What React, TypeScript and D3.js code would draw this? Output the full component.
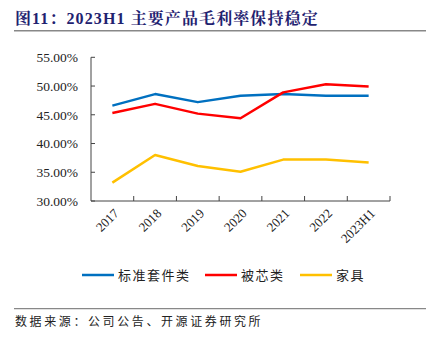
import React from "react";
import * as d3 from "d3";

const categories = ["2017", "2018", "2019", "2020", "2021", "2022", "2023H1"];
const seriesNames = ["标准套件类", "被芯类", "家具"];
const standardKit = [46.6, 48.6, 47.2, 48.3, 48.6, 48.3, 48.3];
const quilt = [45.3, 46.9, 45.2, 44.4, 48.9, 50.3, 49.9];
const furniture = [33.2, 38.0, 36.1, 35.1, 37.2, 37.2, 36.7];
const yTicks = [30, 35, 40, 45, 50, 55];
const colors = ["#0070C0", "#FF0000", "#FFC000"];

export default function App() {
  const W = 433, H = 342;
  const left = 91, right = 390, top = 57.3, bottom = 201;
  const x = d3.scaleBand<string>().domain(categories).range([left, right]);
  const y = d3.scaleLinear().domain([30, 55]).range([bottom, top]);
  const line = d3
    .line<number>()
    .x((_, i) => (x(categories[i]) as number) + x.bandwidth() / 2)
    .y((d) => y(d));
  const series = [standardKit, quilt, furniture];
  const serif = "'Liberation Serif', 'Times New Roman', serif";
  const cjk = "'Noto Sans CJK SC', sans-serif";
  const legendX = [82, 205, 300];
  return (
    <svg width={W} height={H} style={{ position: "absolute", left: 0, top: 0, background: "#fff" }}>
      <text x={15} y={24} fontFamily={"'Liberation Serif', 'Noto Serif CJK SC', 'Noto Sans CJK SC', serif"} fontWeight="bold" fontSize={16} letterSpacing={1.1} fill="#1F2270">
        图11：2023H1 主要产品毛利率保持稳定
      </text>
      <line x1={14} x2={426} y1={30.7} y2={30.7} stroke="#888" strokeWidth={1.5} />
      {/* y axis */}
      <line x1={left} x2={left} y1={top} y2={bottom} stroke="#444" strokeWidth={1} />
      {yTicks.map((t) => (
        <g key={t}>
          <line x1={left} x2={left + 4} y1={y(t)} y2={y(t)} stroke="#444" />
          <text x={78} y={y(t)} dy="0.35em" textAnchor="end" fontFamily={serif} fontSize={13.5} fill="#222">
            {t.toFixed(2)}%
          </text>
        </g>
      ))}
      {/* x axis */}
      <line x1={left} x2={right} y1={bottom} y2={bottom} stroke="#444" strokeWidth={1} />
      {categories.map((c) => (
        <line key={c} x1={(x(c) as number) + x.bandwidth()} x2={(x(c) as number) + x.bandwidth()} y1={bottom} y2={bottom - 5} stroke="#444" />
      ))}
      {categories.map((c) => {
        const cx = (x(c) as number) + x.bandwidth() / 2 + 4;
        const cy = bottom + 10;
        return (
          <text key={c} x={cx} y={cy} transform={`rotate(-45 ${cx} ${cy})`} textAnchor="end" dy="0.35em" fontFamily={serif} fontSize={13} fill="#222">
            {c}
          </text>
        );
      })}
      {series.map((s, i) => (
        <path key={i} d={line(s) || ""} fill="none" stroke={colors[i]} strokeWidth={2.5} strokeLinejoin="round" />
      ))}
      {/* legend */}
      {seriesNames.map((n, i) => (
        <g key={n}>
          <line x1={legendX[i]} x2={legendX[i] + 32} y1={275} y2={275} stroke={colors[i]} strokeWidth={2.5} />
          <text x={legendX[i] + 36} y={275} dy="0.36em" fontFamily={cjk} fontSize={13} letterSpacing={1.5} fill="#222">
            {n}
          </text>
        </g>
      ))}
      <line x1={14} x2={426} y1={308.7} y2={308.7} stroke="#888" strokeWidth={1.2} />
      <text x={15} y={322} dy="0.36em" fontFamily={cjk} fontSize={12} letterSpacing={2.6} fill="#222">
        数据来源：公司公告、开源证券研究所
      </text>
    </svg>
  );
}
